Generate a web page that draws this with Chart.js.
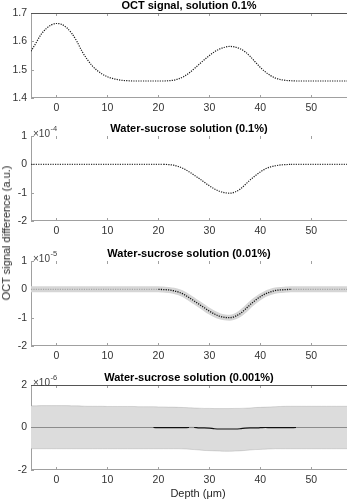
<!DOCTYPE html>
<html>
<head>
<meta charset="utf-8">
<script src="https://cdn.jsdelivr.net/npm/chart.js@4.4.1/dist/chart.umd.min.js"></script>
<style>
  body { margin: 0; background: #fff; width: 347px; height: 500px; position: relative; overflow: hidden; font-family: "Liberation Sans", Arial, sans-serif; }
  .panel { position: absolute; left: 0; width: 347px; height: 118px; }
  .ylab { position: absolute; left: 6px; top: 233px; transform: translate(-50%, -50%) rotate(-90deg); white-space: nowrap; font-size: 11px; color: #262626; }
  .xlab { position: absolute; left: 198px; top: 493px; transform: translate(-50%, -50%); white-space: nowrap; font-size: 11px; color: #262626; }
</style>
</head>
<body>
<div class="panel" style="top:0px"><canvas id="octChart"></canvas></div>
<div class="panel" style="top:123px"><canvas id="diff01Chart"></canvas></div>
<div class="panel" style="top:248px"><canvas id="diff001Chart"></canvas></div>
<div class="panel" style="top:372px"><canvas id="diff0001Chart"></canvas></div>
<div class="ylab">OCT signal difference (a.u.)</div>
<div class="xlab">Depth (μm)</div>

<script>
'use strict';

// depth axis (um)
var depth = [-5, -4, -3, -2, -1, 0, 1, 2, 3, 4, 5, 6, 7, 8, 9, 10, 11, 12, 13, 14, 15, 16, 17, 18, 19, 20,
    21, 22, 23, 24, 25, 26, 27, 28, 29, 30, 31, 32, 33, 34, 35, 36, 37, 38, 39, 40, 41, 42, 43, 44, 45,
    46, 47, 48, 49, 50, 51, 52, 53, 54, 55, 56, 57];

// OCT signal, 0.1% solution
var octSignal = [1.565, 1.595, 1.625, 1.645, 1.658, 1.663, 1.66, 1.648, 1.628, 1.6,
    1.565, 1.537, 1.514, 1.497, 1.484, 1.475, 1.469, 1.465, 1.462, 1.461,
    1.46, 1.46, 1.46, 1.46, 1.46, 1.46, 1.46, 1.461, 1.463, 1.468,
    1.476, 1.488, 1.503, 1.519, 1.535, 1.55, 1.563, 1.573, 1.579, 1.582,
    1.58, 1.574, 1.563, 1.547, 1.527, 1.508, 1.492, 1.479, 1.47, 1.465,
    1.462, 1.461, 1.46, 1.46, 1.46, 1.46, 1.46, 1.46, 1.46, 1.46, 1.46, 1.46, 1.46];

// differences, in units of the axis exponent
var diff01 = [0, 0, 0, 0, 0, 0, 0, 0, 0, 0, 0, 0, 0, 0, 0, 0, 0, 0, 0, 0, 0, 0, 0, 0, 0, 0, 0,
    -0.01, -0.03, -0.08, -0.16, -0.26, -0.38, -0.5, -0.63, -0.76, -0.87, -0.95, -1.0, -1.02,
    -0.98, -0.88, -0.72, -0.55, -0.4, -0.27, -0.16, -0.09, -0.05, -0.02, -0.01,
    0, 0, 0, 0, 0, 0, 0, 0, 0, 0, 0, 0];

var diff001 = [0, 0, 0, 0, 0, 0, 0, 0, 0, 0, 0, 0, 0, 0, 0, 0, 0, 0, 0, 0, 0, 0, 0, 0, 0, 0,
    -0.01, -0.02, -0.05, -0.1, -0.18, -0.29, -0.41, -0.53, -0.65, -0.77, -0.87, -0.95, -0.99, -1.0,
    -0.96, -0.86, -0.71, -0.54, -0.39, -0.26, -0.16, -0.09, -0.04, -0.02, -0.01,
    0, 0, 0, 0, 0, 0, 0, 0, 0, 0, 0, 0];

var diff0001 = [0, 0, 0, 0, 0, 0, 0, 0, 0, 0, 0, 0, 0, 0, 0, 0, 0, 0, 0, 0, 0, 0, 0, 0, 0,
    -0.01, -0.01, -0.01, -0.01, -0.01, -0.01, 0, 0,
    -0.02, -0.02, -0.03, -0.06, -0.07, -0.07, -0.07, -0.07, -0.06, -0.03, -0.02, -0.02, -0.01,
    0, -0.01, -0.01, -0.01, -0.01, -0.01,
    0, 0, 0, 0, 0, 0, 0, 0, 0, 0, 0];

var diff0001Upper = [1.02, 1.02, 1.03, 1.03, 1.03, 1.03, 1.03, 1.03, 1.02, 1.02,
    1.01, 1.0, 1.0, 1.0, 1.0, 0.99, 0.99, 0.99, 0.99, 0.99, 0.99, 0.98, 0.98, 0.98, 0.98,
    0.97, 0.97, 0.96, 0.96, 0.95, 0.94, 0.93, 0.92, 0.91, 0.9,
    0.9, 0.89, 0.89, 0.89, 0.89, 0.9, 0.9, 0.91, 0.92, 0.94,
    0.95, 0.96, 0.97, 0.98, 0.99, 1.0, 1.0, 1.0, 1.0, 1.0,
    1.0, 1.0, 1.0, 1.0, 1.0, 1.0, 1.0, 1.0];

var diff0001Lower = [-1.0, -1.0, -1.0, -1.0, -1.0, -1.0, -1.0, -1.0, -1.0, -1.0,
    -1.0, -1.0, -1.0, -1.0, -1.0, -1.0, -1.0, -1.0, -1.0, -1.0, -1.0, -1.0, -1.0, -1.0, -1.0,
    -1.0, -1.0, -1.0, -1.0, -1.0, -1.01, -1.02, -1.04, -1.06, -1.08,
    -1.09, -1.1, -1.11, -1.12, -1.12, -1.11, -1.1, -1.08, -1.06, -1.04,
    -1.03, -1.02, -1.01, -1.0, -1.0, -1.0, -1.0, -1.0, -1.0, -1.0,
    -1.0, -1.0, -1.0, -1.0, -1.0, -1.0, -1.0, -1.0];

var xTicks = [0, 10, 20, 30, 40, 50];
var yTicksOct = [1.4, 1.5, 1.6, 1.7];
var yTicksDiff = [-2, -1, 0, 1];
var yTicksDiffSmall = [-2, 0, 2];

var titles = ['OCT signal, solution 0.1%', 'Water-sucrose solution (0.1%)',
    'Water-sucrose solution (0.01%)', 'Water-sucrose solution (0.001%)'];
var exponents = [null, '-4', '-5', '-6'];

Chart.defaults.font.family = '"Liberation Sans", Arial, sans-serif';
Chart.defaults.animation = false;

function toPoints(values) {
    return depth.map(function (d, i) { return {x: d, y: values[i]}; });
}

// box, inward tick marks and the x10^n note, matlab style
var framePlugin = {
    id: 'frame',
    beforeDatasetsDraw: function (chart, args, opts) {
        var a = chart.chartArea, ctx = chart.ctx;
        var xs = chart.scales.x, ys = chart.scales.y;
        ctx.save();
        ctx.lineWidth = 1;
        ctx.strokeStyle = '#a0a0a0';
        ctx.beginPath();
        ctx.moveTo(a.left + 0.5, a.top);
        ctx.lineTo(a.left + 0.5, a.bottom);
        ctx.moveTo(a.left, a.bottom - 0.5);
        ctx.lineTo(a.right, a.bottom - 0.5);
        xs.ticks.forEach(function (t) {
            var px = Math.round(xs.getPixelForValue(t.value)) + 0.5;
            ctx.moveTo(px, a.bottom);
            ctx.lineTo(px, a.bottom - 3);
            ctx.moveTo(px, a.top);
            ctx.lineTo(px, a.top + 3);
        });
        ys.ticks.forEach(function (t) {
            var py = Math.round(ys.getPixelForValue(t.value)) + 0.5;
            ctx.moveTo(a.left, py);
            ctx.lineTo(a.left + 3, py);
        });
        ctx.stroke();
        if (opts.topLine) {
            ctx.strokeStyle = '#555';
            ctx.beginPath();
            ctx.moveTo(a.left, a.top + 0.5);
            ctx.lineTo(a.right, a.top + 0.5);
            ctx.stroke();
        }
        if (opts.exponent) {
            ctx.fillStyle = '#404040';
            ctx.textBaseline = 'middle';
            ctx.textAlign = 'left';
            ctx.font = '10px "Liberation Sans", Arial, sans-serif';
            ctx.fillText('\u00d710', 33, a.top - 2);
            var w = ctx.measureText('\u00d710').width;
            ctx.font = '7.5px "Liberation Sans", Arial, sans-serif';
            ctx.fillText(opts.exponent, 33 + w + 0.5, a.top - 7);
        }
        ctx.restore();
    }
};

function panelOptions(idx, yMin, yMax, yTicks, topLine) {
    return {
        responsive: true,
        maintainAspectRatio: false,
        layout: { padding: 0 },
        plugins: {
            legend: { display: false },
            tooltip: { enabled: false },
            title: {
                display: true,
                fullSize: false,
                text: titles[idx],
                color: '#000',
                font: { size: 11, weight: 'bold', lineHeight: 1.0 },
                padding: { top: 0, bottom: 2 }
            },
            frame: { exponent: exponents[idx], topLine: topLine }
        },
        scales: {
            x: {
                type: 'linear',
                min: -5,
                max: 57,
                afterBuildTicks: function (scale) {
                    scale.ticks = xTicks.map(function (v) { return {value: v}; });
                },
                afterFit: function (scale) { scale.height = 20; },
                grid: { display: false, drawTicks: false },
                border: { display: false },
                ticks: {
                    padding: 4,
                    color: '#333',
                    font: { size: 10.5 },
                    maxRotation: 0,
                    callback: function (v) { return String(v); }
                }
            },
            y: {
                min: yMin,
                max: yMax,
                afterBuildTicks: function (scale) {
                    scale.ticks = yTicks.map(function (v) { return {value: v}; });
                },
                afterFit: function (scale) { scale.width = 31; },
                grid: { display: false, drawTicks: false },
                border: { display: false },
                ticks: {
                    padding: 4,
                    color: '#333',
                    font: { size: 10.5 },
                    callback: function (v) { return String(v); }
                }
            }
        }
    };
}

function flatOr(flatColor, color) {
    return function (ctx) {
        return (ctx.p0.parsed.y === 0 && ctx.p1.parsed.y === 0) ? flatColor : color;
    };
}

var octChart = new Chart(document.getElementById('octChart'), {
    type: 'line',
    data: {
        datasets: [{
            data: toPoints(octSignal),
            borderColor: '#1a1a1a',
            borderWidth: 1.2,
            borderDash: [1.2, 1.2],
            pointRadius: 0,
            fill: false,
            cubicInterpolationMode: 'monotone'
        }]
    },
    options: panelOptions(0, 1.4, 1.7, yTicksOct, true),
    plugins: [framePlugin]
});

var diff01Chart = new Chart(document.getElementById('diff01Chart'), {
    type: 'line',
    data: {
        datasets: [{
            data: toPoints(diff01),
            borderColor: '#1a1a1a',
            borderWidth: 1.2,
            borderDash: [1.2, 1.2],
            pointRadius: 0,
            fill: false,
            cubicInterpolationMode: 'monotone',
            segment: { borderColor: flatOr('#3a3a3a', '#1a1a1a') }
        }]
    },
    options: panelOptions(1, -2, 1, yTicksDiff, false),
    plugins: [framePlugin]
});

var diff001Chart = new Chart(document.getElementById('diff001Chart'), {
    type: 'line',
    data: {
        datasets: [
            {
                data: toPoints(diff001),
                borderWidth: 1.3,
                borderDash: [1.2, 1.2],
                pointRadius: 0,
                fill: false,
                cubicInterpolationMode: 'monotone',
                segment: { borderColor: flatOr('#a8a8a8', '#111') }
            },
            {
                data: toPoints(diff001),
                borderColor: '#d6d6d6',
                borderWidth: 6,
                borderCapStyle: 'butt',
                pointRadius: 0,
                fill: false,
                cubicInterpolationMode: 'monotone'
            }
        ]
    },
    options: panelOptions(2, -2, 1, yTicksDiff, false),
    plugins: [framePlugin]
});

var diff0001Chart = new Chart(document.getElementById('diff0001Chart'), {
    type: 'line',
    data: {
        datasets: [
            {
                data: toPoints(diff0001),
                borderWidth: 1.2,
                pointRadius: 0,
                fill: false,
                cubicInterpolationMode: 'monotone',
                segment: { borderColor: flatOr('#8c8c8c', '#111') }
            },
            {
                data: toPoints(diff0001Upper),
                borderColor: 'rgba(0,0,0,0.15)',
                borderWidth: 0.8,
                pointRadius: 0,
                fill: false,
                cubicInterpolationMode: 'monotone'
            },
            {
                data: toPoints(diff0001Lower),
                borderColor: 'rgba(0,0,0,0.15)',
                borderWidth: 0.8,
                pointRadius: 0,
                backgroundColor: '#dcdcdc',
                fill: '-1',
                cubicInterpolationMode: 'monotone'
            }
        ]
    },
    options: panelOptions(3, -2, 2, yTicksDiffSmall, true),
    plugins: [framePlugin]
});
</script>
</body>
</html>
